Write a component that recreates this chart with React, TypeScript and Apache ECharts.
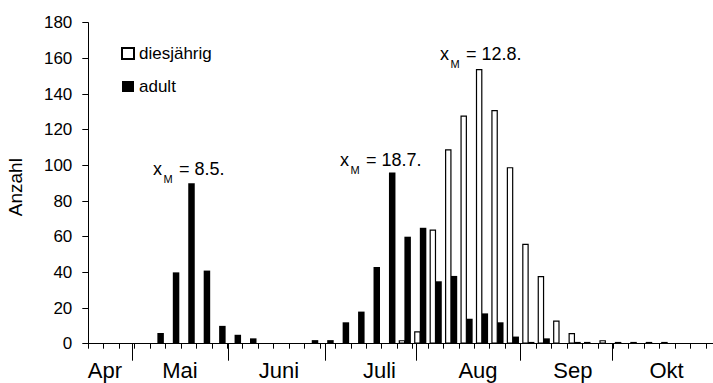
import React, { useEffect, useRef } from "react";
import * as echarts from "echarts";

// pentad bins (index 0..40)
const adult = [0, 0, 0, 0, 0, 6, 40, 90, 41, 10, 5, 3, 0, 0, 0, 2, 2, 12, 18, 43, 96, 60, 65, 35, 38, 14, 17, 12, 4, 1, 3, 0, 1, 0, 0, 0, 0, 0, 0, 0, 0];
const diesjaehrig = [0, 0, 0, 0, 0, 0, 0, 0, 0, 0, 0, 0, 0, 0, 0, 0, 0, 0, 0, 0, 2, 7, 64, 109, 128, 154, 131, 99, 56, 38, 13, 6, 1, 2, 1, 1, 1, 1, 0, 0, 0];

const months = ["Apr", "Mai", "Juni", "Juli", "Aug", "Sep", "Okt"];
const monthLabelPos = [1.08, 5.94, 12.35, 18.86, 25.24, 31.39, 37.45];
const monthBoundaries = [2.83, 9.09, 15.33, 21.27, 28.01, 33.92];

const yTicks = [0, 20, 40, 60, 80, 100, 120, 140, 160, 180];

const FONT = "'Liberation Sans', Arial, sans-serif";

const toData = (arr: number[]) => arr.map((v, i) => [i, v === 0 ? null : v]);

function annotation(x: number, y: number, value: string) {
  return [
    { type: "text", x, y, style: { text: "x", font: `18px ${FONT}`, fill: "#000", textVerticalAlign: "middle" } },
    { type: "text", x: x + 10.5, y: y + 10, style: { text: "M", font: `11px ${FONT}`, fill: "#000", textVerticalAlign: "middle" } },
    { type: "text", x: x + 26, y, style: { text: "= " + value, font: `18px ${FONT}`, fill: "#000", textVerticalAlign: "middle" } },
  ];
}

export default function App() {
  const ref = useRef<HTMLDivElement>(null);
  useEffect(() => {
    if (!ref.current) return;
    const chart = echarts.init(ref.current, null, { renderer: "svg" });
    chart.setOption({
      animation: false,
      backgroundColor: "#fff",
      textStyle: { fontFamily: FONT, color: "#000" },
      grid: { left: 88.3, top: 22.7, width: 633, height: 321, containLabel: false, outerBoundsMode: "none" },
      legend: {
        data: ["diesjährig", "adult"],
        orient: "vertical",
        left: 121,
        top: 45,
        padding: 0,
        icon: "rect",
        itemWidth: 12,
        itemHeight: 11,
        itemGap: 16,
        textStyle: { fontSize: 17, color: "#000", fontFamily: FONT },
      },
      xAxis: [
        {
          type: "value",
          min: 0,
          max: 41,
          interval: 1,
          axisLine: { show: true, lineStyle: { color: "#000", width: 1 } },
          axisTick: { show: true, length: 5, lineStyle: { color: "#000" } },
          axisLabel: { show: false },
          splitLine: { show: false },
        },
        {
          type: "value",
          min: 0,
          max: 41,
          position: "bottom",
          axisLine: { show: false },
          axisTick: { show: true, length: 17, customValues: monthBoundaries, lineStyle: { color: "#000", width: 1 } },
          axisLabel: {
            show: true,
            customValues: monthLabelPos,
            margin: 16,
            fontSize: 22,
            color: "#000",
            fontFamily: FONT,
            formatter: (v: number) => {
              let best = 0;
              for (let i = 0; i < monthLabelPos.length; i++) {
                if (Math.abs(monthLabelPos[i] - v) < Math.abs(monthLabelPos[best] - v)) best = i;
              }
              return months[best];
            },
          },
          splitLine: { show: false },
        },
      ],
      yAxis: {
        type: "value",
        min: yTicks[0],
        max: yTicks[yTicks.length - 1],
        interval: 20,
        name: "Anzahl",
        nameLocation: "middle",
        nameGap: 63,
        nameTextStyle: { fontSize: 19, color: "#000", fontFamily: FONT, padding: [0, 8, 0, 0] },
        axisLine: { show: true, lineStyle: { color: "#000", width: 1 } },
        axisTick: { show: true, length: 6, lineStyle: { color: "#000" } },
        axisLabel: { fontSize: 17, color: "#000", margin: 16, fontFamily: FONT },
        splitLine: { show: false },
      },
      series: [
        {
          name: "adult",
          type: "bar",
          xAxisIndex: 0,
          data: toData(adult),
          barWidth: 6.5,
          barGap: "50%",
          itemStyle: { color: "#000" },
        },
        {
          name: "diesjährig",
          type: "bar",
          xAxisIndex: 0,
          data: toData(diesjaehrig),
          barWidth: 6.5,
          barGap: "50%",
          itemStyle: { color: "#fff", borderColor: "#000", borderWidth: 1.2 },
        },
      ],
      graphic: [
        ...annotation(153, 169, "8.5."),
        ...annotation(340, 160, "18.7."),
        ...annotation(440, 53.5, "12.8."),
      ],
    });
    return () => chart.dispose();
  }, []);
  return <div ref={ref} style={{ position: "fixed", left: 0, top: 0, width: 713, height: 383 }} />;
}
